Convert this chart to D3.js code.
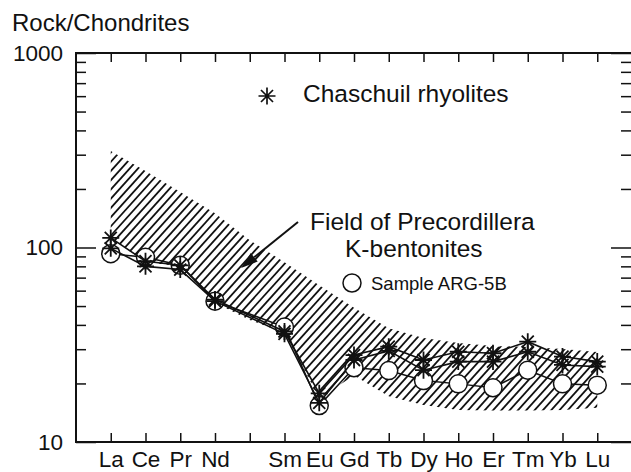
<!DOCTYPE html>
<html>
<head>
<meta charset="utf-8">
<script src="https://cdn.jsdelivr.net/npm/d3@7"></script>
<style>
  body { margin: 0; background: #fff; }
  svg { display: block; font-family: "Liberation Sans", Arial, sans-serif; }
  .axis text { fill: #111; }
  .axis line { stroke: #111; stroke-width: 1.5; }
  .axis .domain { display: none; }
</style>
</head>
<body>
<div id="chart"></div>
<script>
'use strict';

// Rare earth elements on the x axis (Pm has a tick but no label / data)
const ree = ['La', 'Ce', 'Pr', 'Nd', 'Pm', 'Sm', 'Eu', 'Gd', 'Tb', 'Dy', 'Ho', 'Er', 'Tm', 'Yb', 'Lu'];
const reeLabels = ['La', 'Ce', 'Pr', 'Nd', '', 'Sm', 'Eu', 'Gd', 'Tb', 'Dy', 'Ho', 'Er', 'Tm', 'Yb', 'Lu'];

// Chaschuil rhyolites (two samples), rock/chondrite
const rhyoliteA = [112, 85, 81, 54, null, 37, 17.8, 28, 30.9, 26.4, 29.1, 28.6, 32.8, 27.5, 25.9];
const rhyoliteB = [99, 80, 77, 53, null, 36, 15.9, 26.4, 29.4, 23.4, 25.9, 25.9, 29.1, 24.9, 24.4];

// Sample ARG-5B
const arg5b = [93, 89, 81, 53, null, 39, 15.4, 24.1, 23.3, 20.7, 19.9, 19.0, 23.4, 19.9, 19.6];

// Field of Precordillera K-bentonites (upper / lower envelope)
const fieldUpper = [313, 247, 193, 150, 109, 84, 64, 49, 38.5, 34.3, 32.3, 31.2, 30.8, 30.1, 29.0];
const fieldLower = [112, 84, 80, 52, 42.4, 36.3, 16.8, 22, 17.2, 15.5, 14.6, 14.5, 14.5, 14.6, 15.0];

// y axis ticks
const yMajor = [10, 100, 1000];
const yMinor = [20, 30, 40, 50, 60, 70, 80, 90, 200, 300, 400, 500, 600, 700, 800, 900];

const width = 631, height = 472;
const plot = {left: 76, top: 53, right: 632, bottom: 442};

const svg = d3.select('#chart')
  .append('svg')
  .attr('width', width)
  .attr('height', height);

// Scales
const x = d3.scaleLinear().domain([-1, ree.length]).range([plot.left, plot.right]);
const y = d3.scaleLog().domain([10, 1000]).range([plot.bottom, plot.top]);

// K-bentonite field: area used as a clip for diagonal hatch lines
const fieldData = ree.map((d, i) => ({i: i, lo: fieldLower[i], hi: fieldUpper[i]}));
const area = d3.area()
  .x(d => x(d.i))
  .y0(d => y(d.lo))
  .y1(d => y(d.hi));

svg.append('defs')
  .append('clipPath')
  .attr('id', 'field-clip')
  .append('path')
  .attr('d', area(fieldData));

const hatchStep = 8.3;                       // horizontal spacing
const hatchRun = (plot.bottom - plot.top) / Math.tan(48 * Math.PI / 180);
const hatchStarts = d3.range(plot.left - hatchRun, plot.right, hatchStep);

svg.append('g')
  .attr('clip-path', 'url(#field-clip)')
  .selectAll('line')
  .data(hatchStarts)
  .join('line')
  .attr('x1', d => d).attr('y1', plot.bottom)
  .attr('x2', d => d + hatchRun).attr('y2', plot.top)
  .attr('stroke', '#111')
  .attr('stroke-width', 1.8);

// Axes: ticks point inward
const fmt = i => reeLabels[i];
const idx = d3.range(ree.length);

svg.append('g')
  .attr('class', 'axis')
  .attr('transform', `translate(0,${plot.bottom})`)
  .call(d3.axisBottom(x).tickValues(idx).tickSize(-9).tickPadding(9).tickFormat(fmt))
  .selectAll('text').style('font-size', '22.5px');

svg.append('g')
  .attr('class', 'axis')
  .attr('transform', `translate(0,${plot.top})`)
  .call(d3.axisTop(x).tickValues(idx).tickSize(-9).tickFormat(''));

svg.append('g')
  .attr('class', 'axis')
  .attr('transform', `translate(${plot.left},0)`)
  .call(d3.axisLeft(y).tickValues(yMajor).tickSize(-20).tickPadding(13).tickFormat(d3.format('d')))
  .selectAll('text').style('font-size', '22.5px');

svg.append('g')
  .attr('class', 'axis')
  .attr('transform', `translate(${plot.left},0)`)
  .call(d3.axisLeft(y).tickValues(yMinor).tickSize(-10).tickFormat(''));

svg.append('g')
  .attr('class', 'axis')
  .attr('transform', `translate(${plot.right - 1},0)`)
  .call(d3.axisRight(y).tickValues(yMajor).tickSize(-20).tickFormat(''));

svg.append('g')
  .attr('class', 'axis')
  .attr('transform', `translate(${plot.right - 1},0)`)
  .call(d3.axisRight(y).tickValues(yMinor).tickSize(-10).tickFormat(''));

// Frame
svg.append('rect')
  .attr('x', plot.left)
  .attr('y', plot.top)
  .attr('width', plot.right - plot.left)
  .attr('height', plot.bottom - plot.top)
  .attr('fill', 'none')
  .attr('stroke', '#111')
  .attr('stroke-width', 2);

// Helper: points of a series, skipping missing elements (Pm)
const pts = vals => vals.map((v, i) => ({i: i, v: v})).filter(d => d.v != null);
const line = d3.line().x(d => x(d.i)).y(d => y(d.v));

// Star marker (8 rays)
const starPath = r => {
  let p = '';
  for (let k = 0; k < 4; k++) {
    const a = k * Math.PI / 4;
    const dx = r * Math.cos(a), dy = r * Math.sin(a);
    p += `M${-dx},${-dy}L${dx},${dy}`;
  }
  return p;
};

// ARG-5B line and circles
svg.append('path')
  .attr('d', line(pts(arg5b)))
  .attr('fill', 'none')
  .attr('stroke', '#111')
  .attr('stroke-width', 1.5);

svg.selectAll('circle.arg')
  .data(pts(arg5b))
  .join('circle')
  .classed('arg', true)
  .attr('cx', d => x(d.i))
  .attr('cy', d => y(d.v))
  .attr('r', 9)
  .attr('fill', '#fff')
  .attr('stroke', '#111')
  .attr('stroke-width', 1.5);

// Rhyolite lines and stars
[rhyoliteA, rhyoliteB].forEach(series => {
  svg.append('path')
    .attr('d', line(pts(series)))
    .attr('fill', 'none')
    .attr('stroke', '#111')
    .attr('stroke-width', 1.6);

  svg.append('g').selectAll('path')
    .data(pts(series))
    .join('path')
    .attr('transform', d => `translate(${x(d.i)},${y(d.v)})`)
    .attr('d', starPath(8.5))
    .attr('stroke', '#111')
    .attr('stroke-width', 1.8);
});

// Y axis title
svg.append('text')
  .attr('x', 12)
  .attr('y', 31)
  .style('font-size', '24px')
  .attr('fill', '#111')
  .text('Rock/Chondrites');

// Legend: Chaschuil rhyolites
svg.append('path')
  .attr('transform', 'translate(267,96)')
  .attr('d', starPath(8.5))
  .attr('stroke', '#111')
  .attr('stroke-width', 1.7);

svg.append('text')
  .attr('x', 303)
  .attr('y', 102)
  .style('font-size', '24.5px')
  .attr('fill', '#111')
  .text('Chaschuil rhyolites');

// Field annotation with arrow
svg.append('text')
  .attr('x', 310)
  .attr('y', 230)
  .style('font-size', '24.5px')
  .attr('fill', '#111')
  .text('Field of Precordillera');

svg.append('text')
  .attr('x', 345)
  .attr('y', 256.5)
  .style('font-size', '24.5px')
  .attr('fill', '#111')
  .text('K-bentonites');

const arrowFrom = [298, 222], arrowTo = [241, 268];
const ang = Math.atan2(arrowTo[1] - arrowFrom[1], arrowTo[0] - arrowFrom[0]);
const headLen = 17, headW = 5.5;
const bx = arrowTo[0] - headLen * Math.cos(ang), by = arrowTo[1] - headLen * Math.sin(ang);

svg.append('line')
  .attr('x1', arrowFrom[0]).attr('y1', arrowFrom[1])
  .attr('x2', bx).attr('y2', by)
  .attr('stroke', '#111')
  .attr('stroke-width', 2);

svg.append('path')
  .attr('d', `M${arrowTo[0]},${arrowTo[1]}` +
    `L${bx + headW * Math.sin(ang)},${by - headW * Math.cos(ang)}` +
    `L${bx - headW * Math.sin(ang)},${by + headW * Math.cos(ang)}Z`)
  .attr('fill', '#111');

// Legend: Sample ARG-5B
svg.append('circle')
  .attr('cx', 352)
  .attr('cy', 283)
  .attr('r', 9)
  .attr('fill', '#fff')
  .attr('stroke', '#111')
  .attr('stroke-width', 1.5);

svg.append('text')
  .attr('x', 371)
  .attr('y', 290)
  .style('font-size', '18.5px')
  .attr('fill', '#111')
  .text('Sample ARG-5B');
</script>
</body>
</html>
